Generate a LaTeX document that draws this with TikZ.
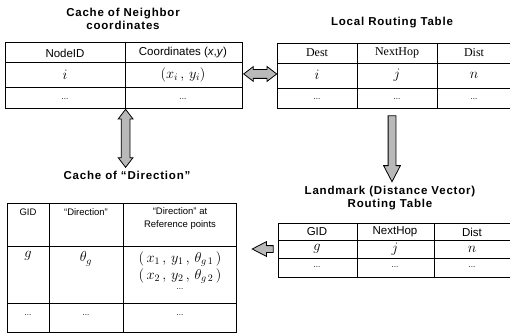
\documentclass[tikz,border=0pt]{standalone}
\usepackage{fontspec}
\setmainfont{Liberation Sans}
\newfontfamily\serfont{Liberation Serif}
\newfontfamily\ttlfont[LetterSpace=7]{Liberation Sans}
\usetikzlibrary{calc,shapes.arrows}
\tikzset{
  tbl/.style={draw,line width=1.4pt,anchor=north west,inner sep=0pt},
  sep/.style={line width=0.7pt},
  ttl/.style={font=\ttlfont\bfseries\fontsize{11.5}{13}\selectfont,align=center},
  hd/.style={font=\fontsize{11.5}{12}\selectfont},
  hdr/.style={font=\serfont\fontsize{12}{12}\selectfont},
  sm/.style={font=\fontsize{9.5}{13}\selectfont,align=center},
  dots/.style={font=\fontsize{8}{10}\selectfont},
  mth/.style={font=\fontsize{14}{16}\selectfont},
  dar/.style={double arrow,draw,line width=0.8pt,fill=gray!55,inner sep=4pt,
    double arrow head extend=3pt,double arrow tip angle=75},
  sar/.style={single arrow,draw,line width=0.8pt,fill=gray!55,inner sep=3.5pt,
    single arrow head extend=4.5pt,single arrow tip angle=55}
}
\begin{document}
\begin{tikzpicture}[x=1pt,y=-1pt]
\useasboundingbox (0,0) rectangle (510,333);
\clip (0,0) rectangle (510,333);
% cache of neighbor coordinates
\node[ttl] (nbrttl) at (123,19) {Cache of Neighbor\\coordinates};
\node[tbl,minimum width=237pt,minimum height=66pt] (nbr) at (5,42) {};
\draw[sep] (5,62) -- (242,62) (5,87) -- (242,87) (125,42) -- (125,108);
\node[hd] (nbrid) at (65,53) {NodeID};
\node[hd] (nbrxy) at (183,53) {Coordinates (\textit{x},\textit{y})};
\node[mth] (nbri) at (65,75) {$i$};
\node[mth] (nbrpos) at (183,75) {$(x_i\,,\,y_i)$};
\node[dots] at (65,99) {...};
\node[dots] at (183,99) {...};
% local routing table
\node[ttl] (lrtttl) at (392,23) {Local Routing Table};
\node[tbl,minimum width=260pt,minimum height=65pt] (lrt) at (277,43) {};
\draw[sep] (277,63) -- (520,63) (277,88) -- (520,88) (357,43) -- (357,108) (437,43) -- (437,108);
\node[hdr] (lrtd) at (317,53) {Dest};
\node[hdr] (lrth) at (397,53) {NextHop};
\node[hdr] (lrtn) at (474,53) {Dist};
\node[mth] at (317,75) {$i$};
\node[mth] at (397,75) {$j$};
\node[mth] at (474,75) {$n$};
\node[dots] at (317,99) {...};
\node[dots] at (397,99) {...};
\node[dots] at (474,99) {...};
% landmark routing table
\node[ttl] (lmkttl) at (390,198) {Landmark (Distance Vector)\\Routing Table};
\node[tbl,minimum width=260pt,minimum height=54pt] (lmk) at (278,223) {};
\draw[sep] (278,240) -- (520,240) (278,258) -- (520,258) (357,223) -- (357,277) (434,223) -- (434,277);
\node[hd] at (317,232) {GID};
\node[hd] at (395,232) {NextHop};
\node[hd] at (472,232) {Dist};
\node[mth] at (317,249) {$g$};
\node[mth] at (395,249) {$j$};
\node[mth] at (472,249) {$n$};
\node[dots] at (317,267) {...};
\node[dots] at (395,267) {...};
\node[dots] at (472,267) {...};
% cache of direction
\node[ttl] (dirttl) at (127,175) {Cache of “Direction”};
\node[tbl,minimum width=229pt,minimum height=129pt] (dir) at (7,203) {};
\draw[sep] (7,246) -- (236,246) (7,303) -- (236,303) (49,203) -- (49,332) (123,203) -- (123,332);
\node[sm] at (28,212) {GID};
\node[sm] at (86,212) {“Direction”};
\node[sm] at (180,219) {“Direction” at\\Reference points};
\node[mth] at (28,256) {$g$};
\node[mth] at (86,259) {$\theta_g$};
\node[mth] at (180,259) {$(\,x_1\,,\,y_1\,,\,\theta_{g\,1}\,)$};
\node[mth] at (180,276) {$(\,x_2\,,\,y_2\,,\,\theta_{g\,2}\,)$};
\node[dots] at (180,289) {...};
\node[dots] at (28,315) {...};
\node[dots] at (86,315) {...};
\node[dots] at (180,315) {...};
% arrows
\node[dar,rotate=90,minimum height=58pt] (a1) at ($(nbr.south)!0.5!(dirttl.north)$) {};
\node[dar,minimum height=33pt] (a2) at ($(nbr.east)!0.5!(lrt.west)+(0,-2)$) {};
\node[sar,rotate=-90,minimum height=66pt] (a3) at (392,145) {};
\node[sar,rotate=180,minimum height=21pt,inner sep=3pt,single arrow head extend=4pt] (a4) at (266,249) {};
\end{tikzpicture}
\end{document}
